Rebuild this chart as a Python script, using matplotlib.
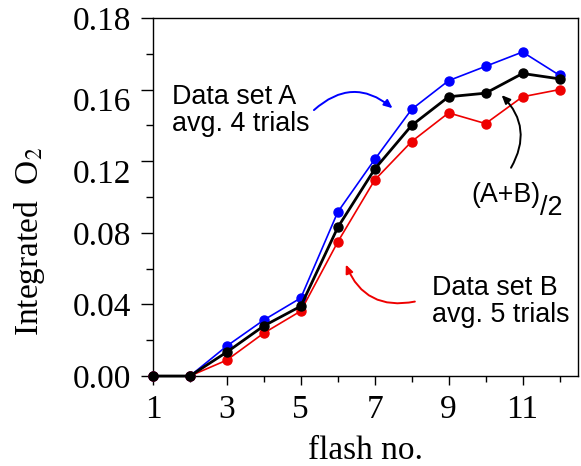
import numpy as np
import matplotlib
matplotlib.use('Agg')
import matplotlib.pyplot as plt
from matplotlib.transforms import ScaledTranslation

plt.rcParams['font.family'] = 'serif'
plt.rcParams['font.serif'] = ['Liberation Serif', 'DejaVu Serif']
plt.rcParams['mathtext.fontset'] = 'stix'

# flash number and integrated O2
flash = [1, 2, 3, 4, 5, 6, 7, 8, 9, 10, 11, 12]
set_a = [0.0, 0.0, 0.0168, 0.0313, 0.0436, 0.0916, 0.121, 0.149, 0.165, 0.173, 0.181, 0.168]
set_b = [0.0, 0.0, 0.0089, 0.0240, 0.0363, 0.0749, 0.1095, 0.131, 0.147, 0.141, 0.156, 0.160]
avg_ab = [0.0, 0.0, 0.0134, 0.0280, 0.0390, 0.0830, 0.1156, 0.140, 0.156, 0.158, 0.169, 0.166]

ytick_pos = [0.0, 0.04, 0.08, 0.12, 0.16, 0.20]
ytick_lab = ['0.00', '0.04', '0.08', '0.12', '0.16', '0.18']
xtick_pos = [1, 3, 5, 7, 9, 11]

BLUE, RED = '#0000ff', '#ee0000'
SANS = 'Liberation Sans'
FS_NOTE = 19.4

fig = plt.figure(figsize=(5.81, 4.66), dpi=100)
ax = fig.add_axes([0.2633, 0.1931, 0.9948 - 0.2633, 0.9614 - 0.1931])

ax.plot(flash, set_a, '-o', color=BLUE, lw=1.2, ms=6.5, clip_on=False, zorder=3)
ax.plot(flash, set_b, '-o', color=RED, lw=1.2, ms=6.5, clip_on=False, zorder=3)
ax.plot(flash, avg_ab, '-o', color='black', lw=2.0, ms=6.5, clip_on=False, zorder=4)

ax.set_xlim(1, 12.5)
ax.set_ylim(0, 0.20)
ax.set_xticks(xtick_pos)
ax.set_xticks(range(1, 13), minor=True)
ax.set_yticks(ytick_pos)
ax.set_yticklabels(ytick_lab)
ax.set_yticks(np.arange(0, 0.201, 0.02), minor=True)
ax.tick_params(axis='both', which='major', direction='out', labelsize=24,
               width=1.0)
ax.tick_params(axis='y', which='major', length=8.5, pad=7)
ax.tick_params(axis='y', which='minor', length=5, width=1.0)
ax.tick_params(axis='x', which='major', length=6.5, pad=7)
ax.tick_params(axis='x', which='minor', length=4.3, width=1.0)
for sp in ax.spines.values():
    sp.set_linewidth(1.0)

# the 0.12 / 0.16 labels sit a little below their ticks in the original
for lab in ax.get_yticklabels()[3:5]:
    lab.set_transform(lab.get_transform() +
                      ScaledTranslation(0, -0.10, fig.dpi_scale_trans))

ax.set_xlabel('flash no.', fontsize=24, labelpad=7.5)
ax.set_ylabel(r'Integrated  O$_2$', fontsize=24, labelpad=19, y=0.378)

# annotations
ax.text(1.51, 0.1486, 'Data set A\navg. 4 trials', family=SANS,
        fontsize=FS_NOTE, ha='left', va='center', linespacing=1.05)
ax.annotate('', xy=(7.54, 0.1486), xytext=(5.30, 0.1475),
            arrowprops=dict(arrowstyle='-|>,head_length=0.5,head_width=0.22',
                            color=BLUE, lw=1.4,
                            connectionstyle='arc3,rad=-0.45'))

ab = ax.text(9.62, 0.0972, '(A+B)', family=SANS, fontsize=FS_NOTE,
             ha='left', va='baseline')
ax.annotate('/2', xy=(1, 0), xycoords=ab, xytext=(-1, -13),
            textcoords='offset pixels', family=SANS, fontsize=FS_NOTE,
            ha='left', va='bottom')
ax.annotate('', xy=(10.38, 0.158), xytext=(10.65, 0.115),
            arrowprops=dict(arrowstyle='-|>,head_length=0.5,head_width=0.22',
                            color='black', lw=1.4,
                            connectionstyle='arc3,rad=0.4'))

ax.text(8.54, 0.0419, 'Data set B\navg. 5 trials', family=SANS,
        fontsize=FS_NOTE, ha='left', va='center', linespacing=1.05)
ax.annotate('', xy=(6.19, 0.0637), xytext=(8.16, 0.0419),
            arrowprops=dict(arrowstyle='-|>,head_length=0.5,head_width=0.22',
                            color=RED, lw=1.4,
                            connectionstyle='arc3,rad=-0.43'))

fig.savefig('out.png', dpi=100)
